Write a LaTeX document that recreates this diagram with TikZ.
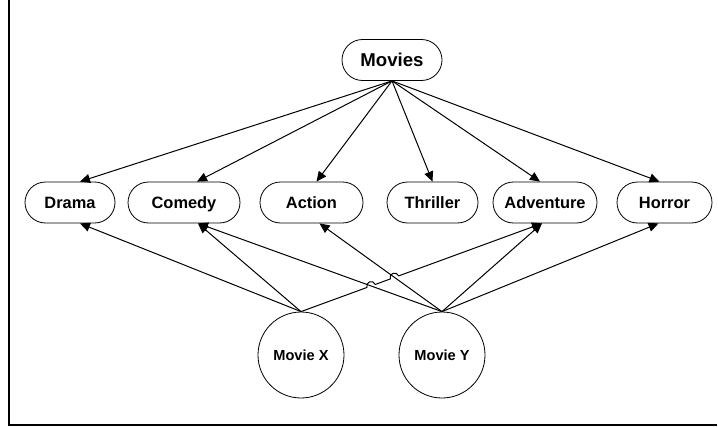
\documentclass[tikz,border=0pt]{standalone}
\usepackage{fontspec}
\setmainfont{Liberation Sans}
\usetikzlibrary{arrows.meta,intersections,calc,shapes.misc}

\begin{document}
\begin{tikzpicture}
				[x=0.5pt,y=-0.5pt,
				genre/.style={draw,rounded rectangle,minimum height=20.5pt,inner sep=0pt,text height=1.6ex,text depth=0.4ex,font=\fontsize{8.2}{10}\selectfont\bfseries},
				film/.style={draw,circle,minimum size=43pt,inner sep=0pt,font=\fontsize{7.3}{9}\selectfont\bfseries},
				arr/.style={-{Triangle[length=5pt,width=4.5pt]},line width=0.5pt}]
				\useasboundingbox (0,0) rectangle (718,428);
				\draw[line width=1pt] (8.5,0) -- (8.5,424.5) -- (717,424.5);
				% nodes
				\node[genre,minimum width=50pt,font=\fontsize{9.3}{11}\selectfont\bfseries] (movies) at (392,60) {Movies};
				\node[genre,minimum width=45pt] (drama) at (70,202.5) {Drama};
				\node[genre,minimum width=56pt] (comedy) at (184,202.5) {Comedy};
				\node[genre,minimum width=51.5pt] (action) at (311.5,202.5) {Action};
				\node[genre,minimum width=45.5pt] (thriller) at (432.5,202.5) {Thriller};
				\node[genre,minimum width=52pt] (adventure) at (545,202.5) {Adventure};
				\node[genre,minimum width=47.5pt] (horror) at (664.5,202.5) {Horror};
				\node[film] (mx) at (301,355) {Movie X};
				\node[film] (my) at (442,355) {Movie Y};
				% edges
				\foreach \g/\s in {drama/5,comedy/6.5,action/2.5,thriller/0,adventure/-2.5,horror/-2.5}
					\draw[arr] (movies.south) -- ([xshift=\s pt]\g.north);
				\foreach \g/\s in {drama/5,comedy/7}
					\draw[arr] (mx.north) -- ([xshift=\s pt]\g.south);
				\draw[arr,name path=ycom] (my.north) -- ([xshift=7pt]comedy.south);
				\draw[arr,name path=yact] (my.north) -- ([xshift=4pt]action.south);
				\foreach \g/\s in {adventure/-1.5,horror/-3}
					\draw[arr] (my.north) -- ([xshift=\s pt]\g.south);
				% line hops
				\path[name path=xadv] (mx.north) -- ([xshift=-1.5pt]adventure.south);
				\path[name intersections={of=xadv and ycom,by=h1}];
				\path[name intersections={of=xadv and yact,by=h2}];
				\draw[arr] let \p1=($(adventure.south)-(mx.north)$), \n1={atan2(\y1,\x1)} in
					(mx.north) -- ($(h1)!2.2pt!(mx.north)$) arc[start angle=\n1+180,end angle=\n1,radius=2.2pt]
					-- ($(h2)!2.2pt!(mx.north)$) arc[start angle=\n1+180,end angle=\n1,radius=2.2pt]
					-- ([xshift=-1.5pt]adventure.south);
			\end{tikzpicture}
\end{document}
